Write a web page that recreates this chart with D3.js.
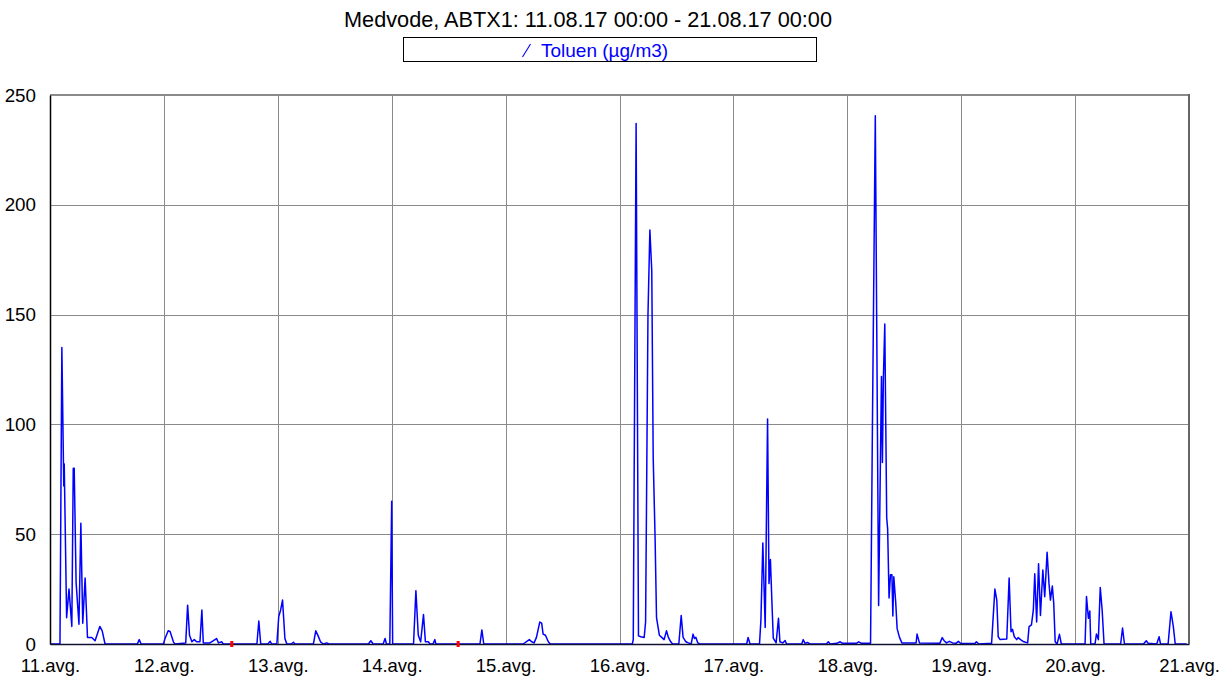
<!DOCTYPE html>
<html>
<head>
<meta charset="utf-8">
<script src="https://cdn.jsdelivr.net/npm/d3@7"></script>
<style>
  html, body { margin: 0; padding: 0; background: #fff; }
  svg { display: block; font-family: "Liberation Sans", Arial, sans-serif; }
</style>
</head>
<body>
<svg id="chart" width="1225" height="680"></svg>
<script>
// ---- data ----
const titleText = "Medvode, ABTX1: 11.08.17 00:00 - 21.08.17 00:00";
const seriesName = "Toluen (µg/m3)";
const dayLabels = ["11.avg.", "12.avg.", "13.avg.", "14.avg.", "15.avg.", "16.avg.", "17.avg.", "18.avg.", "19.avg.", "20.avg.", "21.avg."];
const yTicks = [0, 50, 100, 150, 200, 250];
// hours since 11.08.17 00:00
const sampleHours = [
  0, 2.1, 2.5, 2.9, 3.0, 3.5, 4.0, 4.6, 4.9, 5.1, 5.5, 6.1, 6.5, 6.9, 7.4, 7.9, 8.8, 9.5, 10.5, 11.0, 11.6,
  18.4, 18.8, 19.2, 23.9, 24.2, 24.9, 25.3, 26.0, 26.3,
  28.6, 29.0, 29.4, 29.9, 30.4, 30.9, 31.6, 32.0, 32.3, 33.7, 35.1, 35.5, 36.2, 36.5,
  43.6, 44.0, 44.4, 45.9, 46.4, 46.7,
  47.8, 48.2, 48.6, 49.0, 49.5, 49.9, 50.8, 51.3, 51.6,
  55.5, 56.0, 56.5, 57.0, 57.6, 58.3, 58.8,
  67.1, 67.6, 68.1, 70.2, 70.6, 70.9, 71.6, 72.0, 72.2,
  76.6, 77.1, 77.6, 78.1, 78.7, 79.1, 79.7, 80.1, 80.7, 81.1, 81.3,
  90.6, 91.0, 91.4,
  99.7, 101.0, 101.5, 102.0, 102.5, 103.2, 103.6, 103.9, 104.4, 105.0, 105.4,
  122.7, 122.9, 123.5, 124.0, 124.5, 125.2, 125.5, 126.0, 126.4, 126.8, 127.1, 127.5, 127.8,
  128.4, 128.9, 129.4, 129.9, 130.3, 130.8, 131.2,
  132.5, 133.0, 133.4, 134.0, 134.5, 135.1, 135.5, 135.8, 136.1, 136.5, 137.0,
  146.8, 147.1, 147.5,
  149.5, 149.8, 150.2, 150.7, 151.2, 151.5, 151.8, 152.1, 152.4, 153.0, 153.5, 153.8, 154.4, 154.9, 155.2,
  158.4, 158.7, 159.1, 159.6, 160.1, 163.6, 164.0, 164.4, 165.8, 166.5, 167.0, 169.9, 170.4, 171.0,
  172.9, 173.3, 173.9, 174.6, 175.2, 175.4, 175.6, 175.9, 176.1, 176.3, 176.5, 176.8, 177.1, 177.4, 177.6,
  177.8, 178.2, 178.5, 179.0, 179.5,
  182.5, 182.7, 183.2, 187.5, 188.0, 188.4, 188.9, 189.5, 190.2, 190.9, 191.4, 191.9,
  194.9, 195.2, 195.7,
  198.4, 199.1, 199.5, 199.8, 200.2, 201.6, 202.1, 202.5, 202.8, 203.2, 203.7, 204.0, 204.5, 205.2,
  206.0, 206.3, 206.8, 207.2, 207.5, 207.9, 208.3, 208.7, 209.2, 209.6, 210.1, 210.5, 210.8, 211.2, 211.5,
  211.8, 212.2, 212.7, 213.1,
  218.1, 218.4, 218.8, 219.1, 219.3, 220.2, 220.5, 220.9, 221.3, 221.7, 222.1,
  225.6, 226.0, 226.4, 230.4, 231.0, 231.4, 233.2, 233.7, 234.0,
  235.6, 236.2, 236.7, 237.1, 239.5
];
const toluenValues = [
  0, 0, 135, 72, 82, 12, 25, 8, 80, 80, 28, 9, 55, 9.5, 30, 3, 3, 1.5, 8, 6, 0,
  0, 2, 0, 0, 2.3, 6, 5.7, 1, 0,
  0.5, 17.7, 4, 1, 2, 1, 1, 15.5, 0.5, 0.5, 2.5, 0.5, 1, 0,
  0, 10.5, 0, 0, 1.2, 0,
  0, 12.5, 15.5, 20, 2.5, 0, 0, 0.8, 0,
  0, 6, 3.7, 1, 0, 0.5, 0,
  0, 1.5, 0, 0, 2.5, 0, 0, 65, 0,
  0, 24.3, 4, 1, 13.4, 1, 1, 0, 0, 2, 0,
  0, 6.4, 0,
  0, 2, 1, 0.5, 3, 10, 9.5, 4.5, 4, 1, 0,
  0, 2, 237, 3.7, 3.3, 3, 10, 150, 188.5, 170, 85, 48, 12,
  4, 3, 2, 6, 3, 1, 0,
  0, 13, 3, 1, 0.5, 0, 4.5, 2.5, 3, 0.5, 0,
  0, 3, 0,
  0, 11, 46, 7.5, 102.5, 27.5, 38.5, 20, 2.7, 0.5, 11.7, 1, 0.5, 1.6, 0,
  0, 2, 0.3, 0.7, 0, 0, 1, 0, 0.3, 1, 0.3, 0.3, 1, 0.3,
  0.3, 101, 240.6, 17.5, 121.8, 82.7, 121, 145.7, 101.5, 57.5, 52.5, 21, 31.5, 31.5, 12.8,
  30.6, 19, 7, 3, 0.5,
  0.5, 4.5, 0.5, 0.3, 2.9, 1.5, 0.5, 1.2, 0.5, 0.3, 1.2, 0.2,
  0.2, 1, 0,
  0.3, 25, 20, 3.3, 2, 2.3, 30, 5.6, 6.7, 3.3, 2, 2.9, 2, 1,
  0.5, 7.9, 8.7, 15.5, 32, 10, 36.5, 13, 33.7, 21.5, 41.8, 27.6, 20, 26.4, 18.5,
  1, 0, 4.4, 0,
  0, 21.6, 11.7, 15, 0, 0, 4.6, 2, 25.7, 15.5, 0,
  0, 7.3, 0, 0, 1.5, 0.3, 0, 3.3, 0,
  0, 14.7, 7.9, 0, 0
];
const missingHours = [38.3, 86.0];

// ---- layout ----
const svg = d3.select("#chart");
const plotL = 50, plotR = 1189, plotT = 95, plotB = 644;

const x = d3.scaleLinear().domain([0, 240]).range([plotL, plotR]);
const y = d3.scaleLinear().domain([0, 250]).range([plotB, plotT]);
const dayTicks = dayLabels.map((d, i) => i * 24);

// title
svg.append("text")
  .attr("x", 588).attr("y", 27)
  .attr("text-anchor", "middle")
  .attr("font-size", 21.7)
  .attr("fill", "#000")
  .text(titleText);

// legend box
svg.append("rect")
  .attr("x", 403.5).attr("y", 37.5).attr("width", 413).attr("height", 24)
  .attr("fill", "#fff").attr("stroke", "#000").attr("stroke-width", 1);
svg.append("line")
  .attr("x1", 522.5).attr("y1", 57).attr("x2", 530.5).attr("y2", 44)
  .attr("stroke", "#0000ff").attr("stroke-width", 1.1);
svg.append("text")
  .attr("x", 541).attr("y", 56.5)
  .attr("font-size", 19)
  .attr("fill", "#0000ff")
  .text(seriesName);

// grid
const grid = svg.append("g");
grid.selectAll("line.v").data(dayTicks.slice(1, -1)).join("line")
  .attr("x1", d => Math.round(x(d)) + 0.5).attr("x2", d => Math.round(x(d)) + 0.5)
  .attr("y1", plotT).attr("y2", plotB)
  .attr("stroke", "#8a8a8a").attr("stroke-width", 1);
grid.selectAll("line.h").data(yTicks.slice(1, -1)).join("line")
  .attr("x1", plotL).attr("x2", plotR)
  .attr("y1", d => Math.round(y(d)) + 0.5).attr("y2", d => Math.round(y(d)) + 0.5)
  .attr("stroke", "#8a8a8a").attr("stroke-width", 1);

// frame
svg.append("line").attr("x1", plotL).attr("x2", plotR).attr("y1", plotT).attr("y2", plotT)
  .attr("stroke", "#8a8a8a").attr("stroke-width", 2);
svg.append("line").attr("x1", plotR).attr("x2", plotR).attr("y1", plotT - 1).attr("y2", plotB)
  .attr("stroke", "#666").attr("stroke-width", 2);

// series line
const line = d3.line().x((d, i) => x(sampleHours[i])).y(d => y(d));
svg.append("path")
  .datum(toluenValues)
  .attr("d", line)
  .attr("fill", "none")
  .attr("stroke", "#0000ff")
  .attr("stroke-width", 1.5)
  .attr("stroke-linejoin", "round");

// axes
const yAxis = d3.axisLeft(y).tickValues(yTicks).tickSize(0).tickPadding(14);
const gy = svg.append("g").attr("transform", `translate(${plotL},0)`).call(yAxis);
gy.select(".domain").attr("stroke", "#000").attr("stroke-width", 1.5);
gy.selectAll("text").attr("font-size", 18.8).attr("fill", "#000")
  .attr("font-family", "'Liberation Sans', Arial, sans-serif");

const xAxis = d3.axisBottom(x).tickValues(dayTicks).tickSize(0).tickPadding(15)
  .tickFormat((d, i) => dayLabels[i]);
const gx = svg.append("g").attr("transform", `translate(0,${plotB})`).call(xAxis);
gx.select(".domain").attr("stroke", "#111133").attr("stroke-width", 1.5);
gx.selectAll("text").attr("font-size", 18.5).attr("fill", "#000")
  .attr("font-family", "'Liberation Sans', Arial, sans-serif");

// missing-data markers
svg.selectAll("rect.miss").data(missingHours).join("rect")
  .attr("x", d => x(d) - 1.5).attr("y", plotB - 3)
  .attr("width", 3).attr("height", 6)
  .attr("fill", "#ff0000");
</script>
</body>
</html>
